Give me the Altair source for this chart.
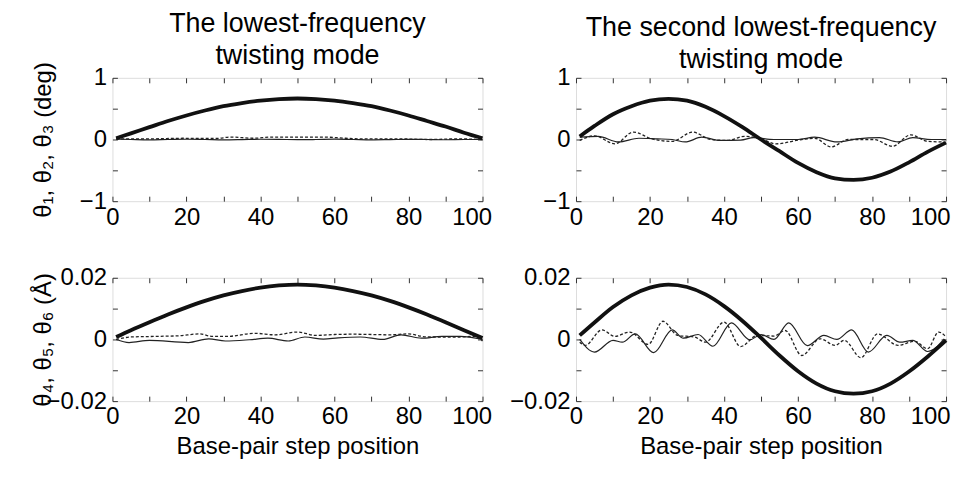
import altair as alt
import pandas as pd

# ---------------- data ----------------
x_smooth = [1, 5, 10, 15, 20, 25, 30, 35, 40, 45, 50, 55, 60, 65, 70, 75, 80, 85, 90, 95, 100]

tl_thick = [0.02, 0.10, 0.20, 0.30, 0.39, 0.47, 0.54, 0.59, 0.63, 0.655, 0.665,
            0.655, 0.63, 0.59, 0.54, 0.47, 0.39, 0.30, 0.21, 0.11, 0.02]
tl_thin_x = [1, 5, 10, 15, 20, 25, 30, 35, 40, 45, 50, 55, 60, 65, 70, 75, 80, 85, 90, 95, 100]
tl_thin_y = [0.005, 0.0, -0.005, 0.0, 0.004, 0.0, -0.006, -0.002, 0.004, 0.002, -0.003,
             0.0, 0.005, 0.0, -0.006, -0.002, 0.003, 0.0, -0.004, 0.0, 0.0]
tl_dot_x = [1, 10, 19, 28, 32, 38, 43, 50, 57, 63, 68, 77, 86, 93, 100]
tl_dot_y = [0.01, 0.01, 0.02, 0.016, 0.04, 0.02, 0.04, 0.037, 0.04, 0.02, 0.01, 0.01, 0.0, 0.01, 0.0]

tr_thick = [0.05, 0.22, 0.41, 0.54, 0.63, 0.66, 0.63, 0.53, 0.38, 0.20, 0.0,
            -0.19, -0.38, -0.53, -0.63, -0.655, -0.62, -0.52, -0.37, -0.20, -0.05]
tr_thin_x = [1, 6, 11.5, 17, 22, 26, 29.5, 34, 39, 44.5, 48, 53.5, 60, 64.5, 70.5, 76, 82, 87, 91, 96, 100]
tr_thin_y = [0.037, 0.05, -0.04, 0.02, 0.01, 0.0, -0.04, 0.037, -0.015, -0.01, 0.03,
             0.0, 0.0, 0.037, -0.04, 0.01, 0.03, -0.04, 0.03, 0.0, 0.0]
tr_dot_x = [1, 5, 10.5, 15.5, 20.5, 26, 31.5, 36.5, 41, 45.5, 50, 54, 61, 64.5, 69, 73.5, 80.5, 85.5, 90.5, 95, 99.5]
tr_dot_y = [-0.015, 0.06, -0.07, 0.12, 0.01, -0.03, 0.12, 0.0, -0.015, 0.05, 0.01,
            -0.07, 0.0, 0.02, -0.12, 0.0, 0.0, -0.11, 0.075, -0.03, -0.04]

bl_thick = [0.0008, 0.0030, 0.0056, 0.0081, 0.0104, 0.0125, 0.0143, 0.0157, 0.0168, 0.0175, 0.0178,
            0.0175, 0.0168, 0.0157, 0.0143, 0.0125, 0.0104, 0.0081, 0.0056, 0.0030, 0.0005]
bl_thin_x = [1, 4.5, 10, 20.5, 26, 30.5, 37, 42, 47.5, 52, 57, 61, 67, 73, 78, 83.5, 89, 94, 100]
bl_thin_y = [0.0, -0.001, -0.0003, -0.001, 0.0002, -0.0005, -0.0001, 0.0004, -0.0005, 0.0008,
             0.0001, 0.0005, 0.0008, 0.0, 0.0015, 0.0004, 0.001, 0.001, 0.0]
bl_dot_x = [1, 5, 12, 18, 23.5, 27, 31, 38.5, 44, 50, 55, 60, 65, 70, 75, 80, 85, 90, 94, 98, 100]
bl_dot_y = [0.0, 0.0008, 0.001, 0.0012, 0.0018, 0.001, 0.001, 0.002, 0.0015, 0.0024, 0.0013,
            0.0016, 0.0017, 0.0016, 0.0015, 0.0018, 0.0008, 0.0008, 0.0008, 0.001, -0.0005]

br_thick = [0.0013, 0.0055, 0.0105, 0.0143, 0.0168, 0.0178, 0.0170, 0.0146, 0.0108, 0.0060, 0.0005,
            -0.0052, -0.0103, -0.0143, -0.0168, -0.0176, -0.0168, -0.0143, -0.0104, -0.0056, -0.0003]
br_thin_x = [1, 5, 10, 12.5, 16, 21, 26, 29, 33, 37, 42, 47, 50, 53.5, 57.5, 62.5, 67, 70.5,
             74.5, 79, 84, 87.5, 91, 95, 99.5]
br_thin_y = [0.0, -0.0041, -0.0003, -0.0009, 0.0018, -0.0043, 0.0031, 0.0004, 0.0016, -0.0022,
             0.0054, -0.0001, 0.0016, 0.0, 0.0054, -0.002, 0.0013, 0.0, 0.0031, -0.0041, 0.0013,
             -0.0009, -0.0003, -0.0039, 0.0002]
br_dot_x = [1, 2.5, 7, 10.5, 14.5, 19.5, 23.5, 27.5, 32, 35, 40, 44.5, 49, 53.5, 56.5, 61, 66,
            70, 72.5, 77, 81.5, 87, 91.5, 95, 98, 100]
br_dot_y = [-0.0009, -0.0019, 0.0031, 0.001, 0.0024, -0.0016, 0.0059, 0.0013, 0.0008, -0.0009,
            0.0056, -0.0023, 0.0013, 0.0011, 0.0029, -0.0052, 0.0002, -0.0019, -0.0003, -0.0059,
            0.0018, -0.0019, -0.0006, -0.003, 0.0024, 0.0008]

x_ticks = [0, 10, 20, 30, 40, 50, 60, 70, 80, 90, 100]
y_ticks_deg = [-1, -0.5, 0, 0.5, 1]
y_ticks_ang = [-0.02, -0.01, 0, 0.01, 0.02]

titles_top = [["The lowest-frequency", "twisting mode"],
              ["The second lowest-frequency", "twisting mode"]]
ytitle_top = "θ₁, θ₂, θ₃ (deg)"
ytitle_bot = "θ₄, θ₅, θ₆ (Å)"
xtitle = "Base-pair step position"

FONT = "Liberation Sans"
W, H = 372, 124
TICK = "#333333"


def df(xs, ys):
    return pd.DataFrame({"x": xs, "y": ys})


def panel(thick, thin, dot, ydom, yticks, ylab_expr, ytitle, title, show_xtitle, left_col):
    xs = alt.Scale(domain=[0, 100], nice=False, zero=False)
    ys = alt.Scale(domain=ydom, nice=False, zero=False)
    last_shift = -11 if left_col else -16
    xkw = dict(orient="bottom", values=x_ticks,
               labelExpr="datum.value % 20 == 0 ? datum.label : ''",
               tickSize=5, offset=-5, domain=False, grid=False, tickColor=TICK,
               labelFontSize=24, labelPadding=4, labelColor="black", labelFont=FONT,
               labelFlush=False, labelOverlap=False,
               labelOffset={"condition": {"test": "datum.value == 100", "value": last_shift}, "value": 0},
               titleFontSize=24, titleFontWeight="normal", titleFont=FONT,
               titleColor="black", titlePadding=6)
    if show_xtitle:
        xkw["title"] = xtitle
    else:
        xkw["title"] = None
    ykw = dict(orient="left", values=yticks, labelExpr=ylab_expr, format="~g",
               tickSize=5, offset=-5, domain=False, grid=False, tickColor=TICK,
               labelFontSize=24, labelPadding=6, labelColor="black", labelFont=FONT,
               labelOverlap=False, minExtent=75, maxExtent=75)
    if left_col:
        ykw.update(title=ytitle, titleFontSize=24, titleFontWeight="normal", titleFont=FONT,
                   titleColor="black", titleX=-62, titleY=H / 2)
    else:
        ykw["title"] = None
    top_ax = alt.Axis(orient="top", values=x_ticks, labels=False, tickSize=5, offset=-5,
                      domain=False, grid=False, tickColor=TICK, title=None)
    right_ax = alt.Axis(orient="right", values=yticks, labels=False, tickSize=5, offset=-5,
                        domain=False, grid=False, tickColor=TICK, title=None)

    l_thin = alt.Chart(thin).mark_line(color="#222222", strokeWidth=1.2, interpolate="monotone").encode(
        x=alt.X("x:Q", scale=xs, axis=None), y=alt.Y("y:Q", scale=ys, axis=None))
    l_dot = alt.Chart(dot).mark_line(color="#222222", strokeWidth=1.3, strokeDash=[3, 2],
                                     interpolate="monotone").encode(
        x=alt.X("x:Q", scale=xs, axis=top_ax), y=alt.Y("y:Q", scale=ys, axis=right_ax))
    l_thick = alt.Chart(thick).mark_line(color="#111111", strokeWidth=3.8, interpolate="monotone").encode(
        x=alt.X("x:Q", scale=xs, axis=alt.Axis(**xkw)), y=alt.Y("y:Q", scale=ys, axis=alt.Axis(**ykw)))

    props = dict(width=W, height=H)
    if title is not None:
        props["title"] = alt.TitleParams(text=title, fontSize=27, font=FONT, fontWeight="normal",
                                         anchor="middle", offset=-8, lineHeight=32, color="black")
    return alt.layer(l_thin, l_dot, l_thick).resolve_axis(x="independent", y="independent").properties(**props)


deg_expr = "datum.value == 0.5 || datum.value == -0.5 ? '' : datum.label"
ang_expr = "abs(datum.value) > 0.005 && abs(datum.value) < 0.015 ? '' : datum.label"

tl = panel(df(x_smooth, tl_thick), df(tl_thin_x, tl_thin_y), df(tl_dot_x, tl_dot_y),
           [-1, 1], y_ticks_deg, deg_expr, ytitle_top, titles_top[0], False, True)
tr = panel(df(x_smooth, tr_thick), df(tr_thin_x, tr_thin_y), df(tr_dot_x, tr_dot_y),
           [-1, 1], y_ticks_deg, deg_expr, None, titles_top[1], False, False)
bl = panel(df(x_smooth, bl_thick), df(bl_thin_x, bl_thin_y), df(bl_dot_x, bl_dot_y),
           [-0.02, 0.02], y_ticks_ang, ang_expr, ytitle_bot, None, True, True)
br = panel(df(x_smooth, br_thick), df(br_thin_x, br_thin_y), df(br_dot_x, br_dot_y),
           [-0.02, 0.02], y_ticks_ang, ang_expr, None, None, True, False)

chart = alt.vconcat(
    alt.hconcat(tl, tr, spacing=13),
    alt.hconcat(bl, br, spacing=13),
    spacing=35,
).properties(
    padding={"left": 23, "top": 0, "right": 0, "bottom": 0},
    background="white",
).configure_view(
    stroke="#444444", strokeWidth=1.2
).configure(font=FONT)

chart.save("out.html", embed_options={"renderer": "svg", "actions": False})
